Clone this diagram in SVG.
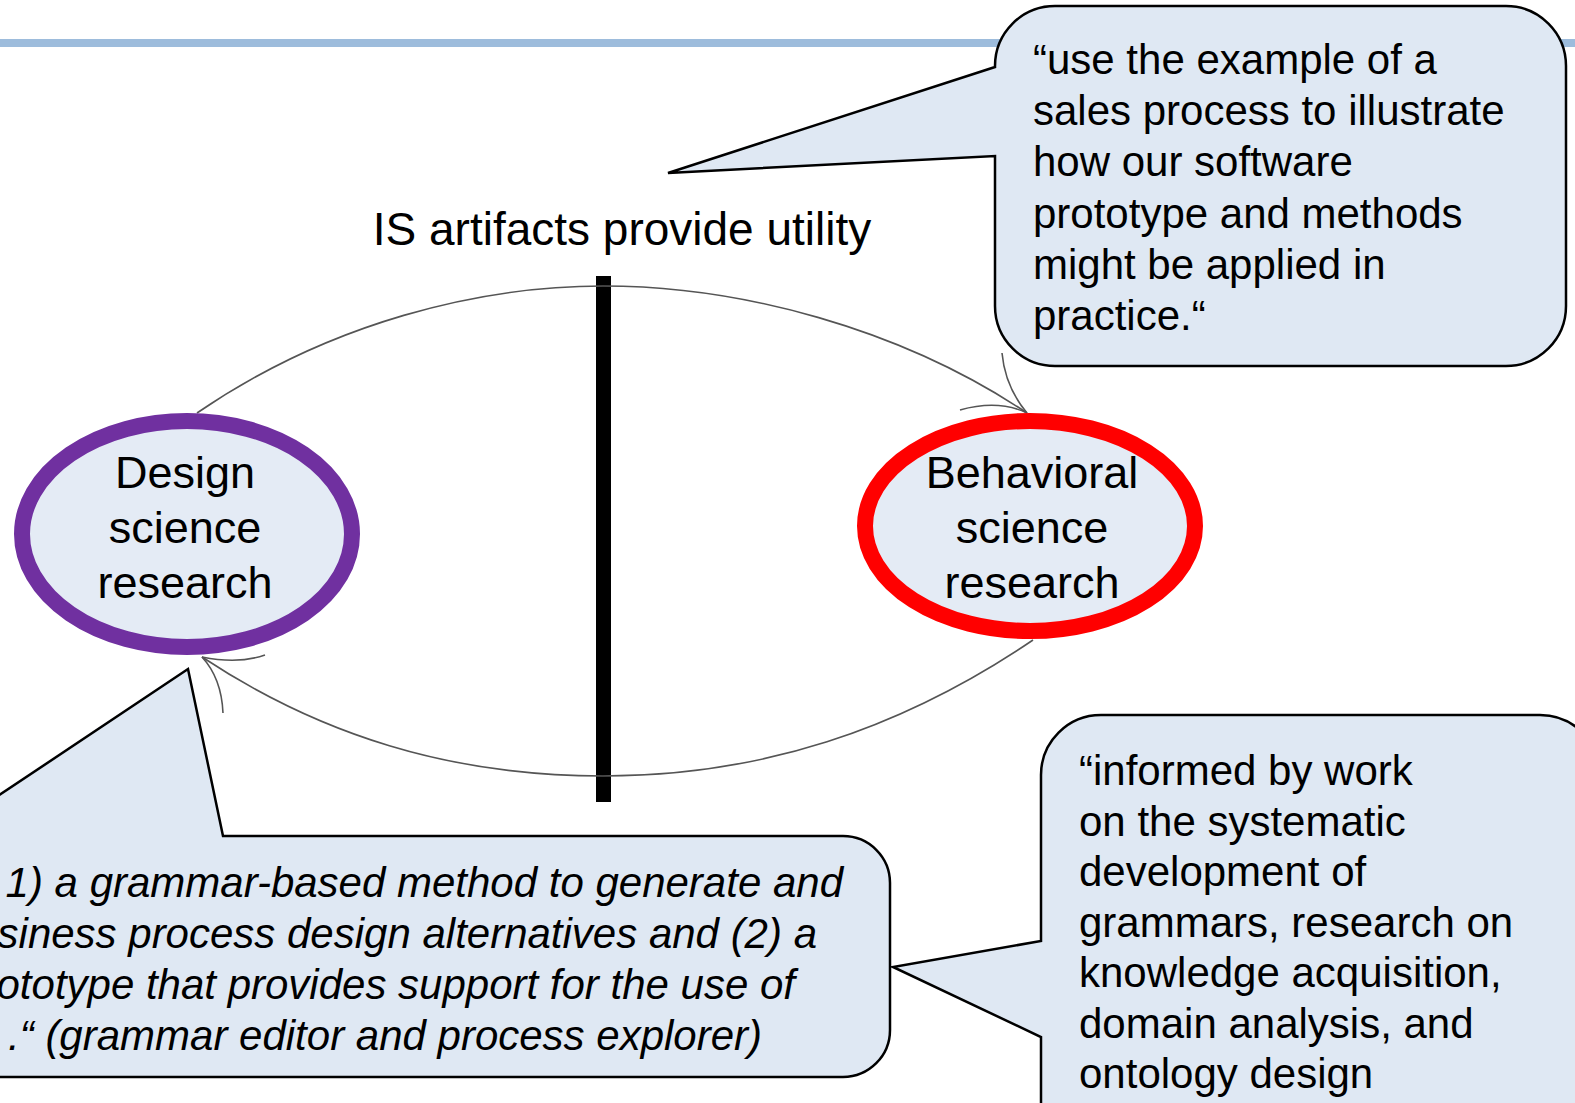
<svg xmlns="http://www.w3.org/2000/svg" width="1575" height="1103" viewBox="0 0 1575 1103">
<style>
.txt{font-family:"Liberation Sans",Arial,sans-serif;fill:#000}
.callout{fill:#dfe8f3;stroke:#000;stroke-width:2.5;stroke-linejoin:miter}
.conn{fill:none;stroke:#555;stroke-width:1.6}
</style>
<rect x="0" y="0" width="1575" height="1103" fill="#fff"/>
<line x1="0" y1="43" x2="1575" y2="43" stroke="#9dbcdc" stroke-width="8"/>

<g id="title">
<text class="txt" x="622" y="245" font-size="46" text-anchor="middle">IS artifacts provide utility</text>
</g>

<g id="divider">
<rect x="596" y="276" width="15" height="526" fill="#000"/>
</g>

<g id="connectors">
<path class="conn" d="M197,413 C330,322 480,286 603,286 C740,286 900,328 1027,413"/>
<path class="conn" d="M1002,353 C1004,375 1012,395 1027,413"/>
<path class="conn" d="M960,410 C985,403 1008,404 1027,413"/>
<path class="conn" d="M1033,640 C900,730 760,776 603,776 C450,776 320,735 202,657"/>
<path class="conn" d="M223,713 C222,690 214,670 202,657"/>
<path class="conn" d="M265,655 C245,662 222,661 202,657"/>
</g>

<g id="design-science">
<ellipse cx="187" cy="534" rx="165" ry="113" fill="#e4ebf5" stroke="#7030a0" stroke-width="16"/>
<text class="txt" font-size="45" text-anchor="middle"><tspan x="185" y="488">Design</tspan><tspan x="185" y="543">science</tspan><tspan x="185" y="598">research</tspan></text>
</g>

<g id="behavioral-science">
<ellipse cx="1030" cy="526" rx="165" ry="105" fill="#e4ebf5" stroke="#ff0000" stroke-width="16"/>
<text class="txt" font-size="45" text-anchor="middle"><tspan x="1032" y="488">Behavioral</tspan><tspan x="1032" y="543">science</tspan><tspan x="1032" y="598">research</tspan></text>
</g>

<g id="callout-top-right">
<path class="callout" d="M1055,6 H1506 A60,60 0 0 1 1566,66 V306 A60,60 0 0 1 1506,366 H1055 A60,60 0 0 1 995,306 V156 L668,173 L995,67 V66 A60,60 0 0 1 1055,6 Z"/>
<text class="txt" font-size="42"><tspan x="1033" y="74">“use the example of a</tspan><tspan x="1033" y="125">sales process to illustrate</tspan><tspan x="1033" y="176">how our software</tspan><tspan x="1033" y="228">prototype and methods</tspan><tspan x="1033" y="279">might be applied in</tspan><tspan x="1033" y="330">practice.“</tspan></text>
</g>

<g id="callout-bottom-right">
<path class="callout" d="M1101,715 H1540 A60,60 0 0 1 1600,775 V1120 H1041 V1037 L893,967 L1041,941 V775 A60,60 0 0 1 1101,715 Z"/>
<text class="txt" font-size="42"><tspan x="1079" y="785">“informed by work</tspan><tspan x="1079" y="836">on the systematic</tspan><tspan x="1079" y="886">development of</tspan><tspan x="1079" y="937">grammars, research on</tspan><tspan x="1079" y="987">knowledge acquisition,</tspan><tspan x="1079" y="1038">domain analysis, and</tspan><tspan x="1079" y="1088">ontology design</tspan></text>
</g>

<g id="callout-bottom-left">
<path class="callout" d="M-100,836 H-62 L188,669 L223,836 H843 A47,47 0 0 1 890,883 V1030 A47,47 0 0 1 843,1077 H-100 Z"/>
<text class="txt" font-size="42" font-style="italic" text-anchor="end"><tspan x="843" y="897">1) a grammar-based method to generate and</tspan><tspan x="817" y="948">siness process design alternatives and (2) a</tspan><tspan x="795" y="999">ototype that provides support for the use of</tspan><tspan x="762" y="1050">.“ (grammar editor and process explorer)</tspan></text>
</g>
</svg>
